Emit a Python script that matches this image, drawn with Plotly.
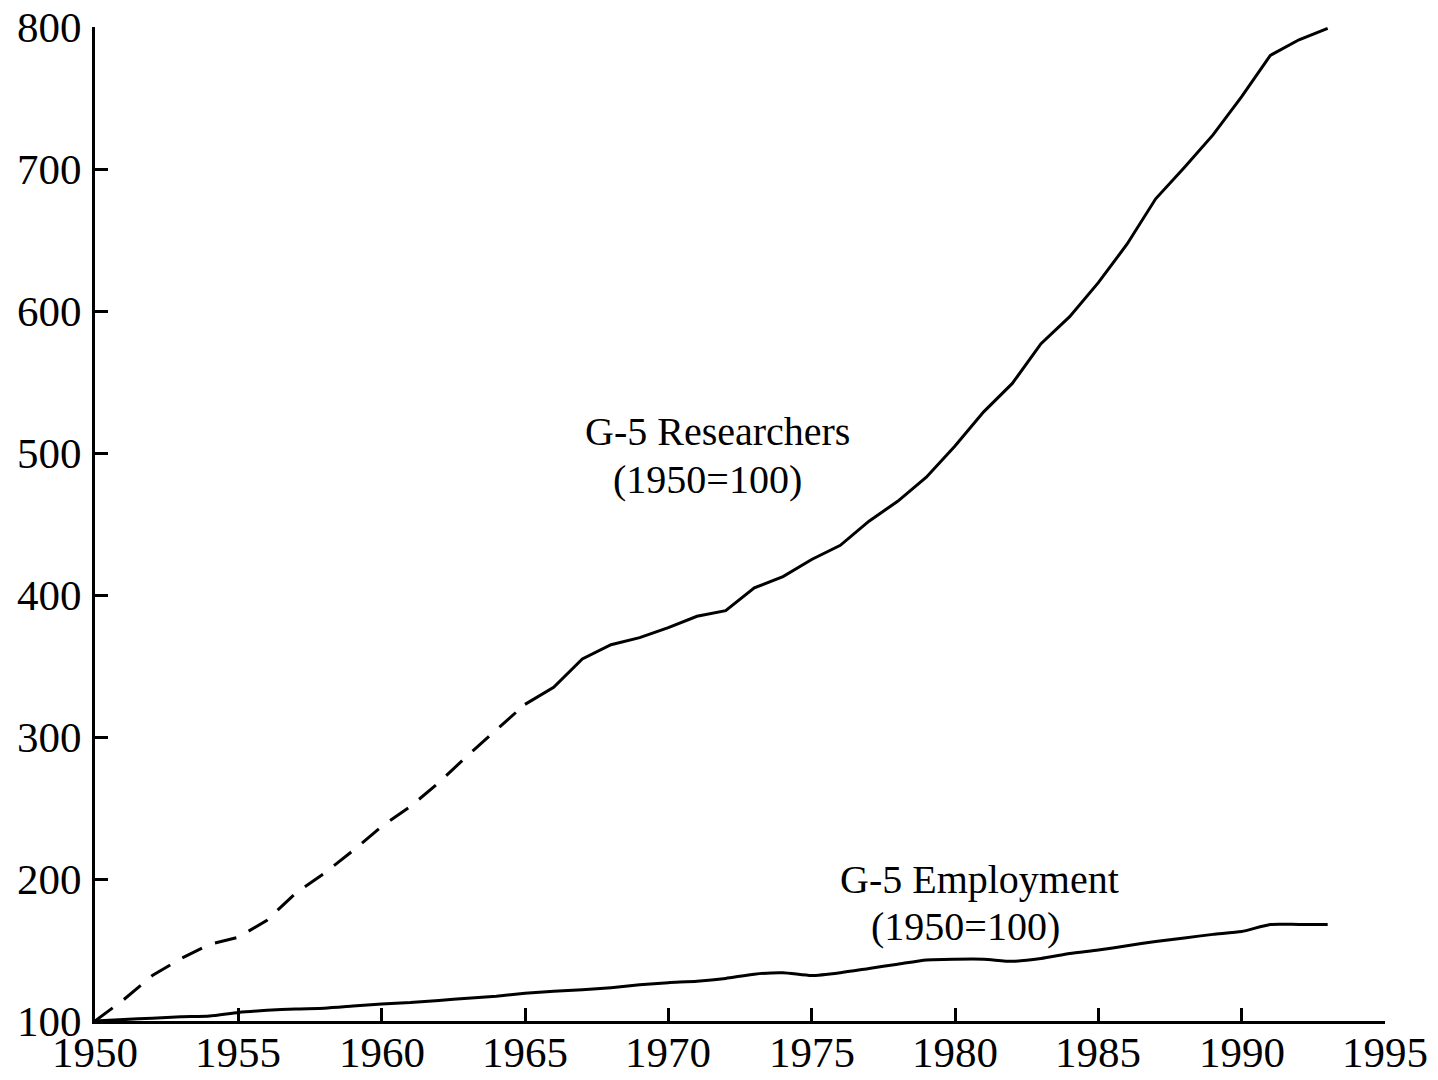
import plotly.graph_objects as go

# ---- data ----
years_dashed = [1950, 1951, 1952, 1953, 1954, 1955, 1956, 1957, 1958, 1959,
                1960, 1961, 1962, 1963, 1964, 1965]
researchers_dashed = [100, 115, 132, 144, 154, 159, 171, 190, 204, 220,
                      237, 251, 268, 287, 305, 323]

years_solid = [1965, 1966, 1967, 1968, 1969, 1970, 1971, 1972, 1973, 1974,
               1975, 1976, 1977, 1978, 1979, 1980, 1981, 1982, 1983, 1984,
               1985, 1986, 1987, 1988, 1989, 1990, 1991, 1992, 1993]
researchers_solid = [323, 335, 355, 365, 370, 377, 385, 389, 405, 413,
                     425, 435, 452, 466, 483, 505, 529, 549, 577, 596,
                     620, 647, 679, 701, 724, 751, 780, 791, 799]

years_emp = list(range(1950, 1994))
employment = [100, 101, 102, 103, 103.5, 106, 107.5, 108.5, 109, 110.5,
              112, 113, 114.5, 116, 117.5, 119.5, 121, 122, 123.5, 125.5,
              127, 128, 130, 133, 134, 132, 134, 137, 140, 143,
              143.5, 143.5, 142, 144, 147.5, 150, 153, 156, 158.5, 161,
              163, 168, 168, 168]

x_ticks = [1950, 1955, 1960, 1965, 1970, 1975, 1980, 1985, 1990, 1995]
y_ticks = [100, 200, 300, 400, 500, 600, 700, 800]

FONT = "Liberation Serif, Times New Roman, serif"

fig = go.Figure()
fig.add_trace(go.Scatter(x=years_dashed, y=researchers_dashed, mode="lines",
                         line=dict(color="black", width=3, dash="22px,14px"),
                         showlegend=False, hoverinfo="skip"))
fig.add_trace(go.Scatter(x=years_solid, y=researchers_solid, mode="lines",
                         line=dict(color="black", width=3),
                         showlegend=False, hoverinfo="skip"))
fig.add_trace(go.Scatter(x=years_emp, y=employment, mode="lines",
                         line=dict(color="black", width=3, shape="spline", smoothing=0.6),
                         showlegend=False, hoverinfo="skip"))

ann_font = dict(family=FONT, size=40, color="black")
fig.add_annotation(x=1971.70, y=514.8, text="G-5 Researchers", showarrow=False, font=ann_font)
fig.add_annotation(x=1971.35, y=481.0, text="(1950=100)", showarrow=False, font=ann_font)
fig.add_annotation(x=1980.87, y=199.3, text="G-5 Employment", showarrow=False, font=ann_font)
fig.add_annotation(x=1980.35, y=166.9, text="(1950=100)", showarrow=False, font=ann_font)

# x tick labels (placed just under the axis, tighter than plotly's default offset)
for yr in x_ticks:
    fig.add_annotation(x=yr, xref="x", y=0, yref="paper", yanchor="top",
                       text=str(yr), showarrow=False, yshift=-6,
                       font=dict(family=FONT, size=43, color="black"))

# page body has an 8px margin; compensate so the plot lands where the reference has it
fig.update_layout(
    width=1430, height=1072,
    margin=dict(l=87, r=53, t=19, b=59, pad=0),
    paper_bgcolor="white", plot_bgcolor="white",
    font=dict(family=FONT, size=42, color="black"),
    xaxis=dict(range=[1950, 1995], tickvals=x_ticks, showticklabels=False,
               showline=True, linecolor="black", linewidth=3, mirror=False,
               ticks="inside", ticklen=13, tickwidth=2.5, tickcolor="black",
               showgrid=False, zeroline=False, automargin=False),
    yaxis=dict(range=[100, 800], tickvals=y_ticks, ticktext=[str(v) for v in y_ticks],
               showline=True, linecolor="black", linewidth=3, mirror=False,
               ticks="inside", ticklen=13, tickwidth=2.5, tickcolor="black",
               showgrid=False, zeroline=False, tickfont=dict(family=FONT, size=43),
               ticklabelstandoff=2, automargin=False, ticklabeloverflow="allow"),
)

fig.write_html("out.html")
